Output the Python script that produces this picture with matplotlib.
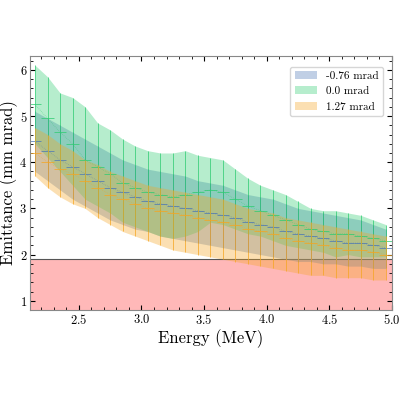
import numpy as np
import matplotlib
matplotlib.use('Agg')
import matplotlib.pyplot as plt

plt.rcParams['font.family'] = ['cmr10', 'DejaVu Serif']
plt.rcParams['mathtext.fontset'] = 'cm'
plt.rcParams['axes.formatter.use_mathtext'] = True

energy = np.round(np.arange(2.15, 5.0, 0.1), 2)

green_mean = [5.25,4.95,4.65,4.4,4.05,3.9,3.75,3.55,3.45,3.35,3.3,3.25,3.3,3.35,3.4,3.35,3.2,3.05,2.95,2.85,2.75,2.65,2.55,2.5,2.45,2.45,2.4,2.35,2.3]
green_hi = [6.1,5.85,5.5,5.4,5.2,4.85,4.7,4.5,4.35,4.25,4.2,4.2,4.25,4.15,4.1,4.05,3.85,3.65,3.5,3.4,3.3,3.15,3.0,2.95,2.95,2.9,2.85,2.75,2.65]
green_lo = [4.4,4.1,3.8,3.5,3.2,3.05,2.9,2.7,2.6,2.5,2.4,2.35,2.4,2.5,2.7,2.65,2.55,2.45,2.4,2.3,2.2,2.15,2.1,2.05,1.95,2.0,1.95,1.95,1.95]
blue_mean = [4.45,4.25,4.05,3.9,3.75,3.6,3.45,3.35,3.25,3.15,3.1,3.05,3.0,2.95,2.9,2.85,2.8,2.7,2.65,2.6,2.5,2.45,2.4,2.35,2.3,2.25,2.25,2.2,2.15]
blue_hi = [5.1,4.95,4.8,4.65,4.5,4.35,4.2,4.05,3.95,3.85,3.8,3.75,3.7,3.6,3.55,3.5,3.4,3.3,3.25,3.2,3.1,3.0,2.95,2.9,2.85,2.8,2.75,2.65,2.55]
blue_lo = [3.8,3.6,3.4,3.2,3.05,2.9,2.75,2.65,2.55,2.5,2.4,2.35,2.3,2.25,2.2,2.15,2.1,2.05,2.0,1.95,1.9,1.85,1.85,1.8,1.8,1.75,1.75,1.7,1.7]
orange_mean = [4.2,4.0,3.85,3.75,3.6,3.45,3.3,3.2,3.1,3.0,2.95,2.9,2.85,2.8,2.75,2.7,2.65,2.55,2.5,2.45,2.35,2.3,2.25,2.2,2.15,2.1,2.1,2.05,2.0]
orange_hi = [4.75,4.6,4.4,4.25,4.05,3.95,3.8,3.7,3.6,3.5,3.45,3.4,3.35,3.3,3.25,3.2,3.1,3.0,2.95,2.9,2.8,2.75,2.7,2.65,2.6,2.55,2.5,2.45,2.4]
orange_lo = [3.7,3.45,3.25,3.1,3.0,2.8,2.65,2.5,2.4,2.3,2.2,2.1,2.05,2.0,1.95,1.9,1.85,1.8,1.75,1.7,1.65,1.6,1.55,1.55,1.5,1.5,1.5,1.45,1.45]

series = [
    ('-0.76 mrad', '#4c78b5', blue_mean, blue_lo, blue_hi),
    ('0.0 mrad', '#2ecc71', green_mean, green_lo, green_hi),
    ('1.27 mrad', '#f5a623', orange_mean, orange_lo, orange_hi),
]

fig, ax = plt.subplots(figsize=(4, 4), dpi=100)
ax.axhspan(0.8, 1.9, color='#ff9a9a', alpha=0.7, lw=0, zorder=0)
ax.axhline(1.9, color='#555555', lw=0.8, zorder=1)

for label, c, m, lo, hi in series:
    m, lo, hi = np.array(m), np.array(lo), np.array(hi)
    ax.fill_between(energy, lo, hi, color=c, alpha=0.35, lw=0, label=label)
    ax.errorbar(energy, m, yerr=[m - lo, hi - m], xerr=0.05, fmt='none',
                ecolor=c, elinewidth=0.7, alpha=0.75)
    ax.plot(energy, m, ls=':', lw=0.5, color=c, alpha=0.6)

ax.set_xlim(2.11, 5.0)
ax.set_ylim(0.8, 6.3)
ax.set_xlabel('Energy (MeV)', fontsize=12, labelpad=2)
ax.set_ylabel('Emittance (mm mrad)', fontsize=12, labelpad=1)
ax.minorticks_on()
ax.tick_params(which='both', direction='in', top=True, right=True, labelsize=9, pad=2)
for s in ax.spines.values():
    s.set_color('#888888')
ax.legend(loc='upper right', fontsize=8, bbox_to_anchor=(0.99, 0.98))
fig.subplots_adjust(left=0.075, right=0.98, top=0.86, bottom=0.225)
fig.savefig('out.png')
